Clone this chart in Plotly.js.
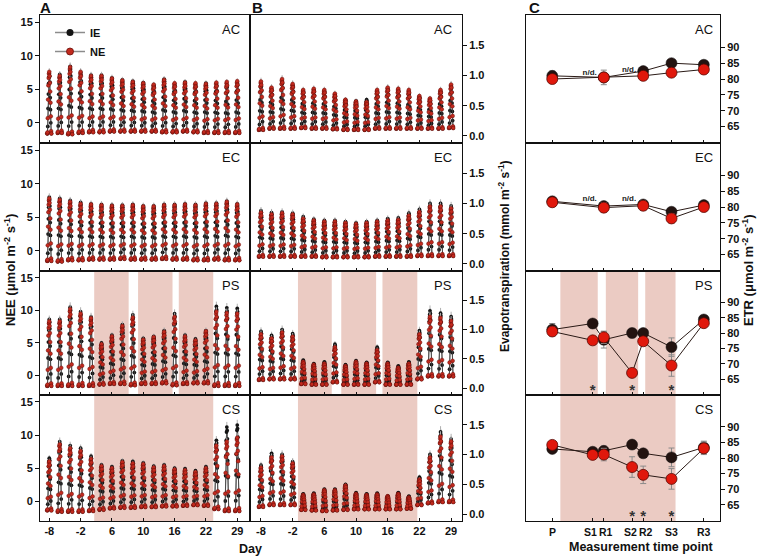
<!DOCTYPE html>
<html><head><meta charset="utf-8">
<script src="https://cdn.plot.ly/plotly-3.0.1.min.js"></script>
<style>html,body{margin:0;padding:0;background:#fff}#chart{width:759px;height:557px}</style>
</head><body><div id="chart"></div>
<script>
// ---------------- DATA ----------------
const days = [0,1,2,3,4,5,6,7,8,9,10,11,12,13,14,15,16,17,18];
const dayTickIndex = [0,3,6,9,12,15,18];
const dayTickLabels = ['-8','-2','6','10','16','22','29'];
// within-day sampling (fraction of a day slot) and typical diurnal course (fraction of daily peak)
const hourOffset = [-0.2,-0.171,-0.143,-0.114,-0.086,-0.057,-0.029,0,0.029,0.057,0.086,0.114,0.143,0.171,0.2];
const shapeIE = [0,0,0.12,0.42,0.66,0.84,0.94,1.0,0.96,0.86,0.6,0.4,0.18,0.02,0];
const shapeNE = [0,0.02,0.25,0.55,0.78,0.9,0.97,1.0,0.93,0.82,0.68,0.5,0.28,0.04,0];

// Panel A – NEE daily maxima and night values
const A_AC_IE = [7.3,7.2,8.4,7.5,7.1,7.1,6.7,6.4,6.2,6.0,5.6,6.5,5.8,6.1,5.7,5.9,5.8,5.6,5.9];
const A_AC_NE = [7.6,7.0,8.3,7.6,7.0,7.0,6.6,6.3,6.1,5.9,5.7,6.4,5.9,6.0,5.9,5.8,6.0,6.1,6.2];
const A_AC_night = [-1.6,-1.5,-1.7,-1.5,-1.4,-1.4,-1.3,-1.3,-1.3,-1.3,-1.3,-1.4,-1.4,-1.3,-1.4,-1.5,-1.5,-1.5,-1.5];
const A_EC_IE = [8.0,7.8,7.5,7.2,7.0,6.9,6.8,6.8,6.9,6.7,6.7,6.9,6.9,7.0,6.9,7.1,7.1,7.4,7.0];
const A_EC_NE = [7.8,7.6,7.3,7.0,6.9,6.8,6.7,6.7,6.8,6.6,6.6,6.8,6.8,6.9,6.8,7.0,7.0,7.3,6.9];
const A_EC_night = [-1.5,-1.6,-1.4,-1.4,-1.3,-1.3,-1.3,-1.2,-1.3,-1.3,-1.3,-1.2,-1.3,-1.3,-1.4,-1.4,-1.3,-1.4,-1.4];
const A_PS_IE = [8.6,8.6,10.5,9.8,9.0,5.0,6.2,7.8,9.3,5.7,6.0,6.9,9.5,6.2,5.6,6.9,10.6,10.4,10.3];
const A_PS_NE = [8.3,8.3,10.2,9.5,8.8,4.8,6.0,7.6,8.9,5.5,5.9,6.7,9.0,6.0,5.4,6.8,9.8,9.6,9.5];
const A_PS_night = [-1.6,-1.6,-1.6,-1.6,-1.6,-1.4,-1.3,-1.3,-1.5,-1.3,-1.3,-1.2,-1.5,-1.3,-1.2,-1.2,-1.6,-1.6,-1.6];
const A_CS_IE = [6.5,9.0,8.4,8.0,6.8,5.5,5.2,6.1,6.0,5.8,5.3,5.5,5.0,4.9,4.6,5.2,9.2,11.2,11.5];
const A_CS_NE = [6.0,8.6,8.0,7.6,6.4,5.3,5.0,5.9,5.7,5.6,5.1,5.3,4.8,4.7,4.4,5.0,8.4,9.0,9.6];
const A_CS_night = [-1.4,-1.6,-1.6,-1.6,-1.5,-1.3,-1.1,-1.0,-1.0,-0.9,-0.9,-0.8,-0.8,-0.7,-0.6,-0.7,-1.2,-1.5,-1.5];

// Panel B – evapotranspiration daily maxima and night values
const B_AC_IE = [0.85,0.78,0.9,0.84,0.74,0.76,0.74,0.68,0.6,0.58,0.6,0.74,0.78,0.76,0.72,0.64,0.6,0.74,0.82];
const B_AC_NE = [0.9,0.8,0.94,0.86,0.76,0.78,0.76,0.7,0.6,0.57,0.56,0.76,0.8,0.78,0.76,0.66,0.62,0.76,0.85];
const B_AC_night = [0.1,0.12,0.12,0.12,0.13,0.12,0.12,0.11,0.1,0.1,0.1,0.12,0.12,0.12,0.12,0.12,0.12,0.12,0.13];
const B_EC_IE = [0.88,0.85,0.86,0.84,0.78,0.74,0.72,0.72,0.7,0.68,0.7,0.72,0.75,0.76,0.84,0.9,1.0,1.0,0.96];
const B_EC_NE = [0.85,0.82,0.84,0.82,0.75,0.72,0.7,0.7,0.68,0.66,0.68,0.7,0.72,0.73,0.8,0.86,0.95,0.95,0.92];
const B_EC_night = [0.12,0.12,0.12,0.12,0.12,0.12,0.11,0.11,0.11,0.11,0.11,0.12,0.12,0.12,0.12,0.13,0.13,0.13,0.13];
const B_PS_IE = [0.97,0.9,1.0,0.93,0.48,0.42,0.45,0.75,0.4,0.47,0.44,0.7,0.44,0.38,0.45,0.98,1.32,1.28,1.22];
const B_PS_NE = [0.92,0.85,0.95,0.88,0.45,0.4,0.42,0.7,0.38,0.45,0.42,0.65,0.42,0.35,0.42,0.92,1.22,1.2,1.15];
const B_PS_night = [0.14,0.15,0.15,0.15,0.07,0.06,0.06,0.1,0.06,0.06,0.06,0.1,0.06,0.06,0.06,0.15,0.2,0.2,0.2];
const B_CS_IE = [0.82,1.02,1.0,0.88,0.34,0.35,0.42,0.42,0.5,0.36,0.34,0.35,0.3,0.36,0.3,0.62,1.0,1.38,1.26];
const B_CS_NE = [0.78,0.95,0.97,0.85,0.32,0.33,0.4,0.4,0.48,0.34,0.32,0.33,0.3,0.34,0.28,0.58,0.95,1.3,1.22];
const B_CS_night = [0.12,0.15,0.15,0.15,0.07,0.06,0.05,0.06,0.07,0.08,0.08,0.08,0.08,0.08,0.09,0.15,0.18,0.2,0.2];

// stress periods (day-slot units)
const A_PS_shade = [[4.3,7.6],[8.5,11.8],[12.4,15.7]];
const A_CS_shade = [[4.3,15.7]];
const B_PS_shade = [[3.5,6.7],[7.6,10.9],[11.5,14.8]];
const B_CS_shade = [[3.5,14.8]];

// Panel C – ETR at measurement time points
const cCats = ['P','S1','R1','S2','R2','S3','R3'];
const cPos = [0,40,51,79,90,118,150];
const C_AC_IE = [81,null,80.5,null,82.5,85,84.5];
const C_AC_NE = [80,null,80.5,null,81,82,83];
const C_AC_IEerr = [1.5,0,1,0,1,1,1];
const C_AC_NEerr = [1,0,2.3,0,1,1.3,1.2];
const C_EC_IE = [81.8,null,80.3,null,80.8,78.5,80.6];
const C_EC_NE = [81.5,null,79.8,null,80.4,76.4,80.0];
const C_EC_IEerr = [1,0,1,0,1,1,1];
const C_EC_NEerr = [1,0,1.5,0,1.5,1.5,1];
const C_PS_IE = [81.1,83.1,77.8,80,80,75.4,84.4];
const C_PS_NE = [80.5,77.6,78.6,67,77.3,69.4,83.2];
const C_PS_IEerr = [2,1,2.7,1.5,1,3,1];
const C_PS_NEerr = [1.5,1,2,1,1,3.5,1];
const C_CS_IE = [82.9,82,82.3,84.3,81.5,80.2,83.4];
const C_CS_NE = [84.2,81,81.1,77.1,74.6,73.3,83.1];
const C_CS_IEerr = [1,1,1.5,1,1,3,2];
const C_CS_NEerr = [1,1,2,3.3,2.8,3.3,2];
const C_PS_shade = [[8,45],[53,85],[92,122]];
const C_CS_shade = [[8,122]];
const C_PS_stars = ['S1','S2','S3'];
const C_CS_stars = ['S2','R2','S3'];
const C_AC_nd = ['S1','S2'];
const C_AC_ndY = [81.8,82.8];
const C_EC_nd = ['S1','S2'];
const C_EC_ndY = [82.4,82.4];
const rowNames = ['AC','EC','PS','CS'];

// ---------------- BUILD ----------------
const W = 759, H = 557;
const FONT = 'Liberation Sans, Arial, sans-serif';
const colPx = [[40,250],[250,462],[526,720]];
const rowPx = [[15,143],[143,271],[271,395],[395,521]];
const px = p => p / W, py = p => 1 - p / H;

function spikes(peaks, night, shape) {
  const x = [], y = [];
  days.forEach((d, i) => {
    hourOffset.forEach((h, k) => {
      x.push(d + h);
      y.push(night[i] + (peaks[i] - night[i]) * shape[k]);
    });
    x.push(null); y.push(null);
  });
  return {x, y};
}

const panelA = [[A_AC_IE,A_AC_NE,A_AC_night],[A_EC_IE,A_EC_NE,A_EC_night],[A_PS_IE,A_PS_NE,A_PS_night],[A_CS_IE,A_CS_NE,A_CS_night]];
const panelB = [[B_AC_IE,B_AC_NE,B_AC_night],[B_EC_IE,B_EC_NE,B_EC_night],[B_PS_IE,B_PS_NE,B_PS_night],[B_CS_IE,B_CS_NE,B_CS_night]];
const panelC = [[C_AC_IE,C_AC_NE,C_AC_IEerr,C_AC_NEerr],[C_EC_IE,C_EC_NE,C_EC_IEerr,C_EC_NEerr],[C_PS_IE,C_PS_NE,C_PS_IEerr,C_PS_NEerr],[C_CS_IE,C_CS_NE,C_CS_IEerr,C_CS_NEerr]];
const shadesA = [[],[],A_PS_shade,A_CS_shade];
const shadesB = [[],[],B_PS_shade,B_CS_shade];
const shadesC = [[],[],C_PS_shade,C_CS_shade];
const starsC = [[],[],C_PS_stars,C_CS_stars];
const ndC = [[C_AC_nd,C_AC_ndY],[C_EC_nd,C_EC_ndY],null,null];

const IEcol = '#141414', NEcol = '#c22a1e', NEedge = '#6a0d08';
const traces = [];
const layout = {
  width: W, height: H, margin: {l:0,r:0,t:0,b:0},
  paper_bgcolor: '#fff', plot_bgcolor: '#fff',
  font: {family: FONT, color: '#111', size: 11},
  showlegend: true,
  legend: {x: px(50), y: py(18), xanchor: 'left', yanchor: 'top', bgcolor: 'rgba(0,0,0,0)',
           font: {family: FONT, size: 11, weight: 'bold'}, tracegroupgap: 0, itemwidth: 30},
  shapes: [], annotations: []
};

const tickFont = {family: FONT, size: 11, weight: 'bold', color: '#111'};
const xRanges = [[-0.89,19.22],[-1.04,19.03],[-26,166]];
const yRanges = [[-3,16.05],[-0.117,2.0],[59.8,100.2]];
const yTicks = [[0,5,10,15],[0,0.5,1,1.5],[65,70,75,80,85,90]];
const yTickText = [['0','5','10','15'],['0.0','0.5','1.0','1.5'],['65','70','75','80','85','90']];

for (let c = 0; c < 3; c++) {
  for (let r = 0; r < 4; r++) {
    const n = c * 4 + r + 1;
    const xa = 'xaxis' + (n === 1 ? '' : n), ya = 'yaxis' + (n === 1 ? '' : n);
    const xr = 'x' + (n === 1 ? '' : n), yr = 'y' + (n === 1 ? '' : n);
    layout[xa] = {
      domain: [px(colPx[c][0]), px(colPx[c][1])], anchor: yr, range: xRanges[c],
      showline: true, mirror: true, linecolor: '#111', linewidth: 1,
      ticks: 'inside', ticklen: 3, tickcolor: '#111', tickangle: 0,
      tickvals: c < 2 ? dayTickIndex : cPos, ticktext: c < 2 ? dayTickLabels : cCats,
      showticklabels: r === 3 && c < 2, tickfont: tickFont,
      showgrid: false, zeroline: false, fixedrange: true
    };
    layout[ya] = {
      domain: [py(rowPx[r][1]), py(rowPx[r][0])], anchor: xr, range: yRanges[c],
      side: c === 0 ? 'left' : 'right',
      showline: true, mirror: true, linecolor: '#111', linewidth: 1,
      ticks: 'outside', ticklen: 4, tickcolor: '#111',
      tickvals: yTicks[c], ticktext: yTickText[c], tickfont: tickFont,
      showgrid: false, zeroline: false, fixedrange: true
    };
    // row label
    layout.annotations.push({xref: xr + ' domain', yref: yr + ' domain', x: c === 2 ? 0.975 : 0.962, y: 0.885,
      xanchor: 'right', yanchor: 'middle', text: rowNames[r], showarrow: false,
      font: {family: FONT, size: 13, color: '#111'}});
    // shading
    const sh = [shadesA, shadesB, shadesC][c][r];
    sh.forEach(s => layout.shapes.push({type: 'rect', xref: xr, yref: yr + ' domain', x0: s[0], x1: s[1], y0: 0, y1: 1,
      fillcolor: '#ebcbc3', line: {width: 0}, layer: 'below'}));

    if (c < 2) {
      const p = (c === 0 ? panelA : panelB)[r];
      const ie = spikes(p[0], p[2], shapeIE), ne = spikes(p[1], p[2], shapeNE);
      traces.push({type: 'scatter', mode: 'lines+markers', x: ie.x, y: ie.y, xaxis: xr, yaxis: yr, showlegend: false,
        connectgaps: false, line: {color: '#3a3a3a', width: 0.8},
        marker: {color: IEcol, size: 3.8}, error_y: {type: 'percent', value: 7, color: '#b0b0b0', thickness: 1, width: 0}});
      traces.push({type: 'scatter', mode: 'lines+markers', x: ne.x, y: ne.y, xaxis: xr, yaxis: yr, showlegend: false,
        connectgaps: false, line: {color: '#444', width: 0.8},
        marker: {color: NEcol, size: 3.8, line: {color: NEedge, width: 0.5}},
        error_y: {type: 'percent', value: 7, color: '#b0b0b0', thickness: 1, width: 0}});
    } else {
      const p = panelC[r];
      traces.push({type: 'scatter', mode: 'lines+markers', x: cPos, y: p[0], xaxis: xr, yaxis: yr, showlegend: false,
        connectgaps: true, line: {color: '#2a1a16', width: 1},
        marker: {color: '#231310', size: 11, line: {color: '#111', width: 0.5}},
        error_y: {type: 'data', array: p[2], color: '#8a8a8a', thickness: 1, width: 3}});
      traces.push({type: 'scatter', mode: 'lines+markers', x: cPos, y: p[1], xaxis: xr, yaxis: yr, showlegend: false,
        connectgaps: true, line: {color: '#2a1a16', width: 1},
        marker: {color: '#e0180c', size: 11, line: {color: '#5a0a05', width: 0.8}},
        error_y: {type: 'data', array: p[3], color: '#8a8a8a', thickness: 1, width: 3}});
      const st = starsC[r];
      if (st.length) {
        traces.push({type: 'scatter', mode: 'text', x: st.map(s => cPos[cCats.indexOf(s)]), y: st.map(() => 61),
          text: st.map(() => '*'), textposition: 'middle center', xaxis: xr, yaxis: yr, showlegend: false,
          textfont: {family: FONT, size: 15, color: '#333', weight: 'bold'}, hoverinfo: 'skip'});
      }
      const nd = ndC[r];
      if (nd) {
        traces.push({type: 'scatter', mode: 'text', x: nd[0].map(s => cPos[cCats.indexOf(s)] - 3), y: nd[1],
          text: nd[0].map(() => 'n/d.'), textposition: 'middle center', xaxis: xr, yaxis: yr, showlegend: false,
          textfont: {family: FONT, size: 8, color: '#222', weight: 'bold'}, hoverinfo: 'skip'});
      }
    }
  }
}

// panel C category labels, nudged apart where two time points sit close together
cCats.forEach((s, i) => {
  const closeNext = i < cPos.length - 1 && cPos[i + 1] - cPos[i] < 15;
  const closePrev = i > 0 && cPos[i] - cPos[i - 1] < 15;
  layout.annotations.push({xref: 'x12', yref: 'paper', x: cPos[i], y: py(532), xshift: closeNext ? -2 : (closePrev ? 2.5 : 0),
    xanchor: 'center', yanchor: 'middle', showarrow: false, text: '<b>' + s + '</b>',
    font: {family: FONT, size: 10.5, color: '#111'}});
});

// legend entries
traces.push({type: 'scatter', mode: 'lines+markers', x: [null], y: [null], name: 'IE', xaxis: 'x', yaxis: 'y',
  line: {color: '#8c8c8c', width: 1.5}, marker: {color: IEcol, size: 7}});
traces.push({type: 'scatter', mode: 'lines+markers', x: [null], y: [null], name: 'NE', xaxis: 'x', yaxis: 'y',
  line: {color: '#8c8c8c', width: 1.5}, marker: {color: NEcol, size: 7, line: {color: NEedge, width: 0.8}}});

// panel letters and axis titles
const ann = layout.annotations;
[['A',38],['B',250],['C',527]].forEach(([t, x]) => ann.push({xref: 'paper', yref: 'paper', x: px(x), y: py(8),
  xanchor: 'left', yanchor: 'middle', text: '<b>' + t + '</b>', showarrow: false, font: {family: FONT, size: 15, color: '#111'}}));
ann.push({xref: 'paper', yref: 'paper', x: px(10), y: py(270), textangle: -90, xanchor: 'center', yanchor: 'middle', showarrow: false,
  text: '<b>NEE (μmol m<sup>-2</sup> s<sup>-1</sup>)</b>', font: {family: FONT, size: 13, color: '#111'}});
ann.push({xref: 'paper', yref: 'paper', x: px(504), y: py(256), textangle: -90, xanchor: 'center', yanchor: 'middle', showarrow: false,
  text: '<b>Evapotranspiration (mmol m<sup>-2</sup> s<sup>-1</sup>)</b>', font: {family: FONT, size: 12, color: '#111'}});
ann.push({xref: 'paper', yref: 'paper', x: px(748), y: py(270), textangle: -90, xanchor: 'center', yanchor: 'middle', showarrow: false,
  text: '<b>ETR (μmol m<sup>-2</sup> s<sup>-1</sup>)</b>', font: {family: FONT, size: 13, color: '#111'}});
ann.push({xref: 'paper', yref: 'paper', x: px(250), y: py(549), xanchor: 'center', yanchor: 'middle', showarrow: false,
  text: '<b>Day</b>', font: {family: FONT, size: 12.5, color: '#111'}});
ann.push({xref: 'paper', yref: 'paper', x: px(641), y: py(547), xanchor: 'center', yanchor: 'middle', showarrow: false,
  text: '<b>Measurement time point</b>', font: {family: FONT, size: 12.5, color: '#111'}});

Plotly.newPlot('chart', traces, layout, {staticPlot: true, displayModeBar: false});
</script></body></html>
